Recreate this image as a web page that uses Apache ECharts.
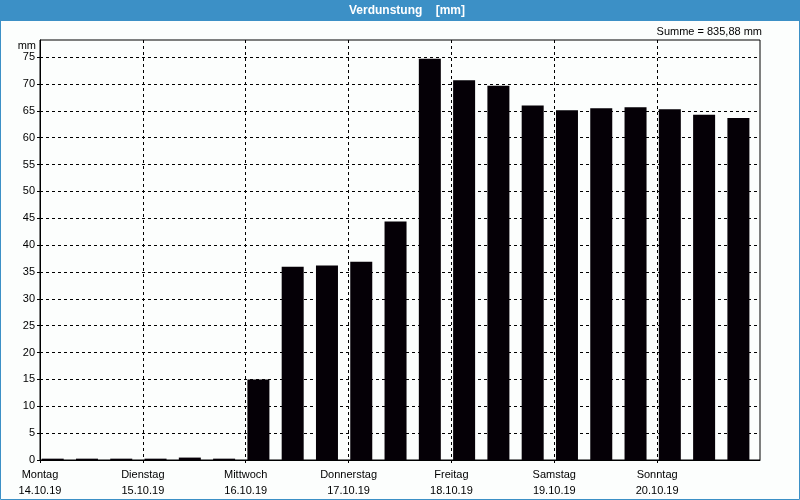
<!DOCTYPE html>
<html>
<head>
<meta charset="utf-8">
<script src="https://cdn.jsdelivr.net/npm/echarts@6/dist/echarts.min.js"></script>
<style>
html,body{margin:0;padding:0;background:#fcfefd;}
#chart{width:800px;height:500px;}
</style>
</head>
<body>
<div id="chart"></div>
<script>
// Data
var dayNames = ['Montag','Dienstag','Mittwoch','Donnerstag','Freitag','Samstag','Sonntag'];
var dayDates = ['14.10.19','15.10.19','16.10.19','17.10.19','18.10.19','19.10.19','20.10.19'];
var values = [0.25, 0.25, 0.25, 0.25, 0.45, 0.25,
              15.0, 36.0, 36.2, 36.9, 44.4,
              74.7, 70.7, 69.7, 66.0, 65.1, 65.5, 65.7, 65.3, 64.3, 63.7];
var yTicks = [0,5,10,15,20,25,30,35,40,45,50,55,60,65,70,75];
var titleText = 'Verdunstung    [mm]';
var sumText = 'Summe = 835,88 mm';
var unitText = 'mm';

var slotsPerDay = 3;
var barData = values.map(function(v, i){ return [i + 0.37, v]; });

var FONT = '"Liberation Sans", Arial, sans-serif';
var chart = echarts.init(document.getElementById('chart'));
chart.setOption({
  animation: false,
  backgroundColor: '#fcfefd',
  grid: { left: 40, right: 40, top: 40, bottom: 40, show: true, borderColor: '#000', borderWidth: 1, backgroundColor: 'transparent' },
  graphic: [
    { type: 'rect', shape: { x: 0, y: 0, width: 800, height: 21 }, style: { fill: '#3c90c6' }, z: 0 },
    { type: 'rect', shape: { x: 0.5, y: 0.5, width: 799, height: 499 }, style: { fill: 'none', stroke: '#3c90c6', lineWidth: 1 }, z: 0 },
    { type: 'text', x: 407, y: 11, style: { text: titleText, fill: '#ffffff', font: 'bold 12px ' + FONT, textAlign: 'center', textVerticalAlign: 'middle' }, z: 10 },
    { type: 'text', x: 762, y: 32, style: { text: sumText, fill: '#000', font: '11px ' + FONT, textAlign: 'right', textVerticalAlign: 'middle' }, z: 10 },
    { type: 'text', x: 36, y: 46, style: { text: unitText, fill: '#000', font: '11px ' + FONT, textAlign: 'right', textVerticalAlign: 'middle' }, z: 10 }
  ],
  xAxis: {
    type: 'value', min: 0, max: values.length, interval: slotsPerDay,
    axisLine: { show: true, lineStyle: { color: '#000', width: 1 } },
    axisTick: { show: true, length: 3, lineStyle: { color: '#000' } },
    splitLine: { show: true, showMinLine: false, showMaxLine: false, lineStyle: { color: '#000', type: [3, 3], width: 1 } },
    axisLabel: {
      color: '#000', fontFamily: FONT, fontSize: 11, lineHeight: 16, margin: 7,
      showMaxLabel: false,
      formatter: function(v){ var k = Math.round(v / slotsPerDay); return k < dayNames.length ? dayNames[k] + '\n' + dayDates[k] : ''; }
    }
  },
  yAxis: {
    type: 'value', min: 0, max: 78.2, interval: 5,
    axisLine: { show: true, lineStyle: { color: '#000', width: 1 } },
    axisTick: { show: true, length: 3, lineStyle: { color: '#000' } },
    splitLine: { show: true, showMinLine: false, showMaxLine: false, lineStyle: { color: '#000', type: [3, 3], width: 1 } },
    axisLabel: {
      color: '#000', fontFamily: FONT, fontSize: 11, margin: 5, showMaxLabel: false,
      formatter: function(v){ return yTicks.indexOf(v) >= 0 ? String(v) : ''; }
    }
  },
  series: [{
    type: 'bar', data: barData, barWidth: 22,
    itemStyle: { color: '#050006' }, z: 5
  }]
});
</script>
</body>
</html>
